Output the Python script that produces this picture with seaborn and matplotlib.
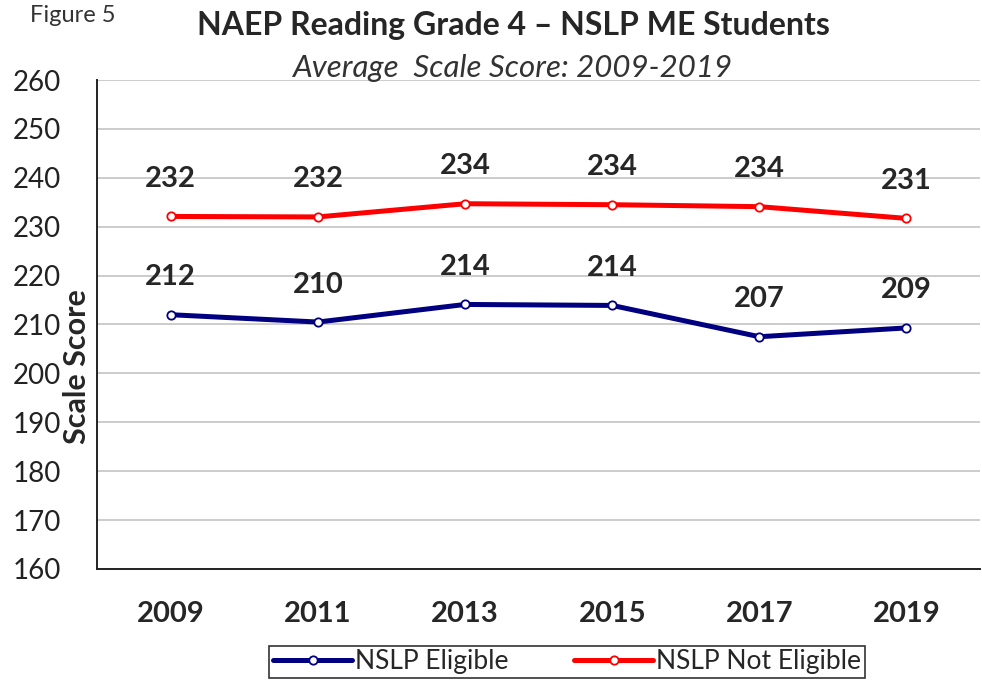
import numpy as np
import pandas as pd
import seaborn as sns
import matplotlib.pyplot as plt

years = ['2009', '2011', '2013', '2015', '2017', '2019']
eligible = [212.0, 210.5, 214.1, 213.9, 207.5, 209.3]
not_eligible = [232.1, 232.0, 234.7, 234.5, 234.1, 231.7]
eligible_labels = ['212', '210', '214', '214', '207', '209']
not_eligible_labels = ['232', '232', '234', '234', '234', '231']

df = pd.DataFrame({
    'year': years * 2,
    'score': eligible + not_eligible,
    'group': ['NSLP Eligible'] * 6 + ['NSLP Not Eligible'] * 6,
})

sns.set_style('white')
plt.rcParams['font.family'] = ['Lato', 'DejaVu Sans']

fig = plt.figure(figsize=(9.82, 6.81), dpi=100)
ax = fig.add_axes([0.099, 0.1645, 0.899, 0.718])

pal = {'NSLP Eligible': '#000080', 'NSLP Not Eligible': '#ff0000'}
sns.lineplot(data=df, x='year', y='score', hue='group', palette=pal, ax=ax,
             linewidth=3.6, marker='o', markersize=6, markerfacecolor='white',
             markeredgewidth=1.3, sort=False)
for ln in ax.lines:
    ln.set_markeredgecolor(ln.get_color())

for i, (v, lab) in enumerate(zip(eligible, eligible_labels)):
    ax.annotate(lab, (i, v), xytext=(0, 27), textcoords='offset points',
                ha='center', va='center', fontsize=21, fontweight='bold')
for i, (v, lab) in enumerate(zip(not_eligible, not_eligible_labels)):
    ax.annotate(lab, (i, v), xytext=(0, 27), textcoords='offset points',
                ha='center', va='center', fontsize=21, fontweight='bold')

ax.set_ylim(160, 260)
ax.set_yticks(np.arange(160, 261, 10))
ax.set_xlim(-0.5, 5.5)
ax.set_xticks(range(6))
ax.set_xticklabels(years, fontsize=21, fontweight='bold')
ax.set_xticks(np.arange(-0.5, 5.6, 1), minor=True)
ax.tick_params(axis='x', which='major', length=0, pad=23)
ax.tick_params(axis='x', which='minor', length=9, width=1.2, direction='out', color='#222222')
ax.tick_params(axis='y', length=7, width=1.2, direction='out', color='#222222', labelsize=20,
               pad=19, labelcolor='#222222')
ax.yaxis.grid(True, color='#c8c8c8', linewidth=1.3)
ax.set_xlabel('')
ax.set_ylabel('')
for s in ['top', 'right']:
    ax.spines[s].set_visible(False)
for s in ['left', 'bottom']:
    ax.spines[s].set_color('#222222')
    ax.spines[s].set_linewidth(1.4)

fig.text(77 / 982, 1 - 367 / 681, 'Scale Score', rotation=90, ha='center', va='center',
         fontsize=22, fontweight='bold')
fig.text(30 / 982, 1 - 16 / 681, 'Figure 5', ha='left', va='center', fontsize=17, color='#333333')
fig.text(513 / 982, 1 - 26 / 681, 'NAEP Reading Grade 4 \u2013 NSLP ME Students', ha='center',
         va='center', fontsize=23, fontweight='bold')
fig.text(512 / 982, 1 - 68 / 681, 'Average  Scale Score: 2009-2019', ha='center',
         va='center', fontsize=22.5, style='italic', color='#333333')

h, l = ax.get_legend_handles_labels()
for hd in h:
    hd.set_markeredgecolor(hd.get_color())
leg = ax.legend(h, l, loc='center', bbox_to_anchor=(567 / 982, 1 - 662 / 681),
                bbox_transform=fig.transFigure, ncol=2, frameon=True, fancybox=False,
                edgecolor='black', fontsize=19, handlelength=3, handletextpad=0.1,
                columnspacing=2.5, borderpad=0.15)
leg.get_frame().set_linewidth(1.2)

fig.savefig('out.png', dpi=100)
